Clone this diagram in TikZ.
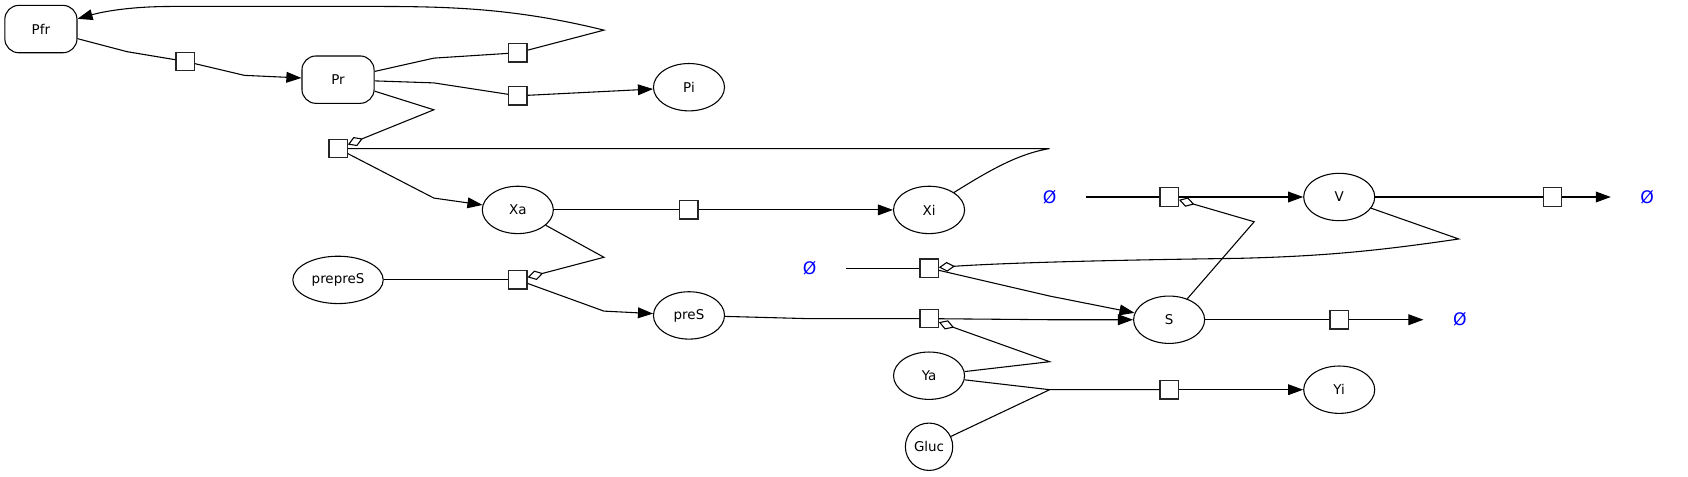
\documentclass[tikz,border=0pt]{standalone}
\usepackage{fontspec}
\setmainfont{DejaVu Sans}
\usetikzlibrary{arrows.meta,shapes.geometric}
\begin{document}
\begin{tikzpicture}[x=1pt,y=-1pt,
  every node/.style={font=\fontsize{12.5}{15}\selectfont},
  species/.style={ellipse,draw,line width=1pt,minimum width=66pt,minimum height=44pt,inner sep=0pt},
  complexnode/.style={rectangle,rounded corners=13pt,draw,line width=1pt,minimum width=67pt,minimum height=44pt,inner sep=0pt},
  proc/.style={rectangle,draw=black!85,line width=1.2pt,fill=white,minimum size=17pt,inner sep=0pt},
  sink/.style={rectangle,inner sep=0pt,minimum width=67pt,minimum height=20pt,text=blue,font=\fontsize{16}{18}\selectfont},
  conn/.style={line width=1pt},
  prod/.style={conn,-{Triangle[length=14pt,width=10pt]}},
  modl/.style={conn,-{Diamond[open,length=15pt,width=9pt,line width=1pt]}}
]
\useasboundingbox (0,0) rectangle (1568,443);
% species
\node[complexnode] (Pfr) at (38,27) {Pfr};
\node[complexnode] (Pr) at (314,74) {Pr};
\node[species] (Pi) at (640,81) {Pi};
\node[species] (Xa) at (481,195) {Xa};
\node[species] (Xi) at (863,195) {Xi};
\node[species,minimum width=84pt] (prepreS) at (314,260) {prepreS};
\node[species] (preS) at (640,293) {preS};
\node[species] (V) at (1244,183) {V};
\node[species] (S) at (1086,297) {S};
\node[species] (Ya) at (863,349) {Ya};
\node[species] (Yi) at (1244,362) {Yi};
\node[species,minimum width=44pt] (Gluc) at (863,415) {Gluc};
% sources / sinks
\node[sink] (e1) at (975,183) {Ø};
\node[sink] (e2) at (752,249) {Ø};
\node[sink] (e3) at (1530,183) {Ø};
\node[sink] (e4) at (1356,297) {Ø};
% processes
\node[proc] (p1) at (172,57) {};
\node[proc] (p2) at (481,49) {};
\node[proc] (p3) at (481,89) {};
\node[proc] (p4) at (314,138) {};
\node[proc] (p5) at (640,195) {};
\node[proc] (p6) at (481,260) {};
\node[proc] (p7) at (1086,183) {};
\node[proc] (p8) at (863,249) {};
\node[proc] (p9) at (863,296) {};
\node[proc] (p10) at (1442,183) {};
\node[proc] (p11) at (1244,297) {};
\node[proc] (p12) at (1086,362) {};
\coordinate (j) at (975,362);
% connectors
\draw[conn] (Pfr) -- (118,48) -- (p1);
\draw[prod] (p1) -- (227,70) -- (Pr);
\draw[conn] (Pr) -- (403,54) -- (p2);
\draw[prod] (p2) -- (561,28) .. controls (480,8) and (420,6) .. (350,6) -- (160,6) .. controls (120,6) and (95,11) .. (Pfr);
\draw[conn] (Pr) -- (403,77) -- (p3);
\draw[prod] (p3) -- (561,85) -- (Pi);
\draw[modl] (Pr) -- (403,102) -- (p4);
\draw[conn] (Xi.35) .. controls (918,159) and (945,143) .. (975,138) -- (p4);
\draw[prod] (p4) -- (403,184) -- (Xa);
\draw[conn] (Xa) -- (p5);
\draw[prod] (p5) -- (Xi);
\draw[conn] (prepreS) -- (p6);
\draw[modl] (Xa) -- (561,239) -- (p6);
\draw[prod] (p6) -- (561,289) -- (preS);
\draw[conn] (preS) -- (751,296) -- (p9);
\draw[prod] (p9) -- (975,297) -- (S);
\draw[modl] (Ya) -- (975,336) -- (p9);
\draw[conn] (e2) -- (p8);
\draw[prod] (p8) -- (975,275) -- (S);
\draw[modl] (V) -- (1355,222) .. controls (1280,233) and (1230,238) .. (1150,240) .. controls (1000,242) and (920,245) .. (p8);
\draw[conn] (e1) -- (p7);
\draw[prod] (p7) -- (V);
\draw[modl] (S) -- (1165,206) -- (p7);
\draw[conn] (V) -- (p10);
\draw[prod] (p10) -- (e3);
\draw[conn] (S) -- (p11);
\draw[prod] (p11) -- (e4);
\draw[conn] (Ya) -- (j) -- (p12);
\draw[conn] (Gluc) -- (j);
\draw[prod] (p12) -- (Yi);
\end{tikzpicture}
\end{document}
